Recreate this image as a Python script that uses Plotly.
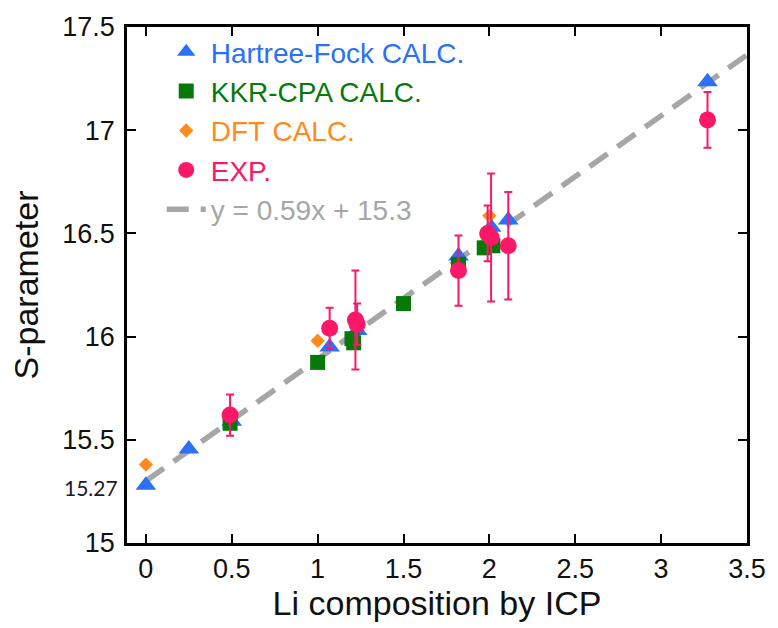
import plotly.graph_objects as go

# Hartree-Fock CALC.
hf_x = [0.0, 0.25, 0.50, 1.07, 1.23, 1.82, 2.01, 2.11, 3.27]
hf_y = [15.28, 15.455, 15.59, 15.95, 16.03, 16.39, 16.53, 16.565, 17.235]
# KKR-CPA CALC.
kkr_x = [0.49, 1.00, 1.20, 1.21, 1.50, 1.82, 1.97, 2.02]
kkr_y = [15.58, 15.875, 15.99, 15.97, 16.16, 16.35, 16.43, 16.44]
# DFT CALC.
dft_x = [0.0, 1.0, 2.0]
dft_y = [15.38, 15.98, 16.585]
# EXP.
exp_x = [0.49, 1.07, 1.22, 1.23, 1.82, 1.99, 2.01, 2.11, 3.27]
exp_y = [15.62, 16.04, 16.08, 16.06, 16.32, 16.50, 16.48, 16.44, 17.05]
exp_err = [0.10, 0.10, 0.24, 0.10, 0.17, 0.135, 0.31, 0.26, 0.135]
# Fit line y = 0.59x + 15.3
fit_slope = 0.59
fit_intercept = 15.3
fit_x = [0.0, 3.5]
fit_y = [fit_slope * v + fit_intercept for v in fit_x]

C_HF = "#2b70f7"
C_KKR = "#07790b"
C_DFT = "#ff8a1c"
C_EXP = "#fb1868"
C_FIT = "#a6a6a6"

FONT = "Liberation Sans, Arial, Helvetica, sans-serif"

def lab(txt, col):
    return f'<span style="color:{col}">{txt}</span>'

fig = go.Figure()
fig.add_trace(go.Scatter(
    x=fit_x, y=fit_y, mode="lines",
    line=dict(color=C_FIT, width=5.5, dash="22px,12px"),
    name=lab("y = 0.59x + 15.3", C_FIT), legendrank=5,
))
fig.add_trace(go.Scatter(
    x=hf_x, y=hf_y, mode="markers",
    marker=dict(symbol="triangle-up", size=18, color=C_HF),
    name=lab("Hartree-Fock CALC.", C_HF), legendrank=1,
))
fig.add_trace(go.Scatter(
    x=kkr_x, y=kkr_y, mode="markers",
    marker=dict(symbol="square", size=15, color=C_KKR),
    name=lab("KKR-CPA CALC.", C_KKR), legendrank=2,
))
fig.add_trace(go.Scatter(
    x=dft_x, y=dft_y, mode="markers",
    marker=dict(symbol="diamond", size=11, color=C_DFT),
    name=lab("DFT CALC.", C_DFT), legendrank=3,
))
fig.add_trace(go.Scatter(
    x=exp_x, y=exp_y, mode="markers",
    marker=dict(symbol="circle", size=17, color=C_EXP),
    error_y=dict(type="data", array=exp_err, visible=True,
                 color=C_EXP, thickness=2, width=4),
    name=lab("EXP.", C_EXP), legendrank=4,
))

axis_common = dict(
    showline=True, linecolor="black", linewidth=2.5, mirror="ticks",
    ticks="inside", ticklen=9, tickwidth=2, tickcolor="black",
    showgrid=False, zeroline=False,
    tickfont=dict(family=FONT, size=27, color="#111"),
)

fig.update_xaxes(
    range=[-0.11, 3.5], dtick=0.5, tick0=0,
    title=dict(text="Li composition by ICP", font=dict(family=FONT, size=34, color="#111"), standoff=8),
    **axis_common,
)
fig.update_yaxes(
    range=[15, 17.5], dtick=0.5, tick0=15,
    ticklabelstandoff=4,
    title=dict(text="S-parameter", font=dict(family=FONT, size=34, color="#111"), standoff=14),
    **axis_common,
)

fig.add_annotation(
    xref="paper", yref="y", x=-0.012, y=15.27, xanchor="right", yanchor="middle",
    text="15.27", showarrow=False,
    font=dict(family="Lato, Open Sans, sans-serif", size=21, color="#1a1a2a"),
)

fig.update_layout(
    width=778, height=628,
    margin=dict(l=127, r=22, t=22, b=84),
    paper_bgcolor="white", plot_bgcolor="white",
    showlegend=True,
    legend=dict(
        x=0.056, y=1.0, xanchor="left", yanchor="top",
        bgcolor="rgba(0,0,0,0)", font=dict(family=FONT, size=28),
        itemsizing="trace", itemwidth=39, tracegroupgap=0,
    ),
)

fig.write_html("out.html")
